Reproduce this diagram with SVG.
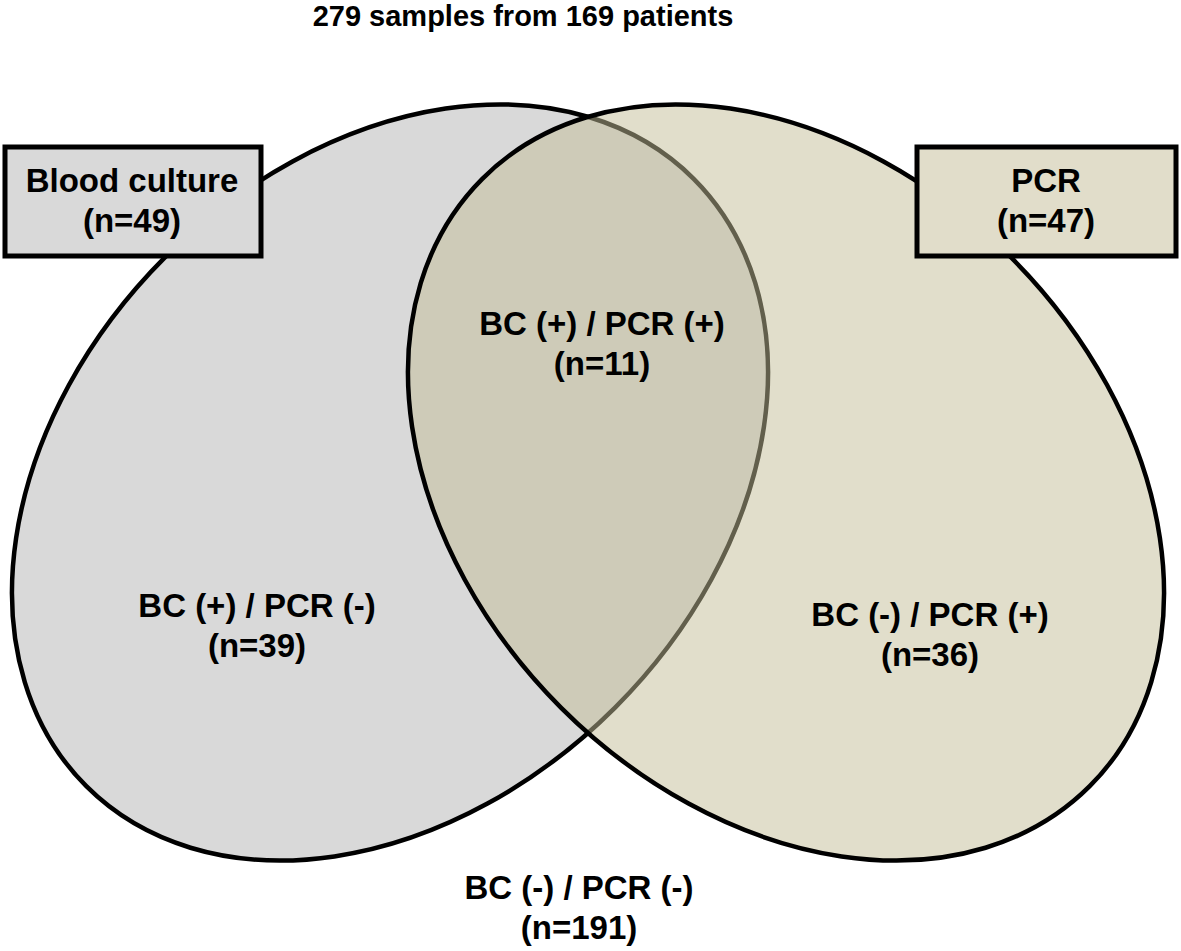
<svg xmlns="http://www.w3.org/2000/svg" width="1181" height="951" viewBox="0 0 1181 951">
<style>
text{font-family:"Liberation Sans",Arial,sans-serif;font-weight:bold;fill:#000;text-anchor:middle;font-size:33px}
.title{font-size:29px}
.set{stroke:#000;stroke-width:4.5}
.box{stroke:#000;stroke-width:5}
</style>
<rect width="1181" height="951" fill="#fff"/>
<text class="title" x="523" y="26">279 samples from 169 patients</text>
<g id="set-bc">
<ellipse class="set" cx="390" cy="482.5" rx="429.5" ry="318.3" transform="rotate(-45 390 482.5)" fill="#d9d9d9"/>
</g>
<g id="set-pcr">
<ellipse class="set" cx="786" cy="482.5" rx="429.5" ry="318.3" transform="rotate(45 786 482.5)" fill="#c4bd97" fill-opacity="0.5"/>
</g>
<g id="label-bc">
<rect class="box" x="5" y="147" width="256" height="109" fill="#d9d9d9"/>
<text x="132" y="192">Blood culture</text>
<text x="132" y="232">(n=49)</text>
</g>
<g id="label-pcr">
<rect class="box" x="917" y="147" width="259" height="109" fill="#e1ddca"/>
<text x="1046" y="192">PCR</text>
<text x="1046" y="232">(n=47)</text>
</g>
<g id="region-both">
<text x="602" y="335">BC (+) / PCR (+)</text>
<text x="602" y="375">(n=11)</text>
</g>
<g id="region-bc-only">
<text x="257" y="617">BC (+) / PCR (-)</text>
<text x="257" y="657">(n=39)</text>
</g>
<g id="region-pcr-only">
<text x="930" y="626">BC (-) / PCR (+)</text>
<text x="930" y="666">(n=36)</text>
</g>
<g id="region-neither">
<text x="579" y="899">BC (-) / PCR (-)</text>
<text x="579" y="939">(n=191)</text>
</g>
<g id="connectors"></g>
</svg>
